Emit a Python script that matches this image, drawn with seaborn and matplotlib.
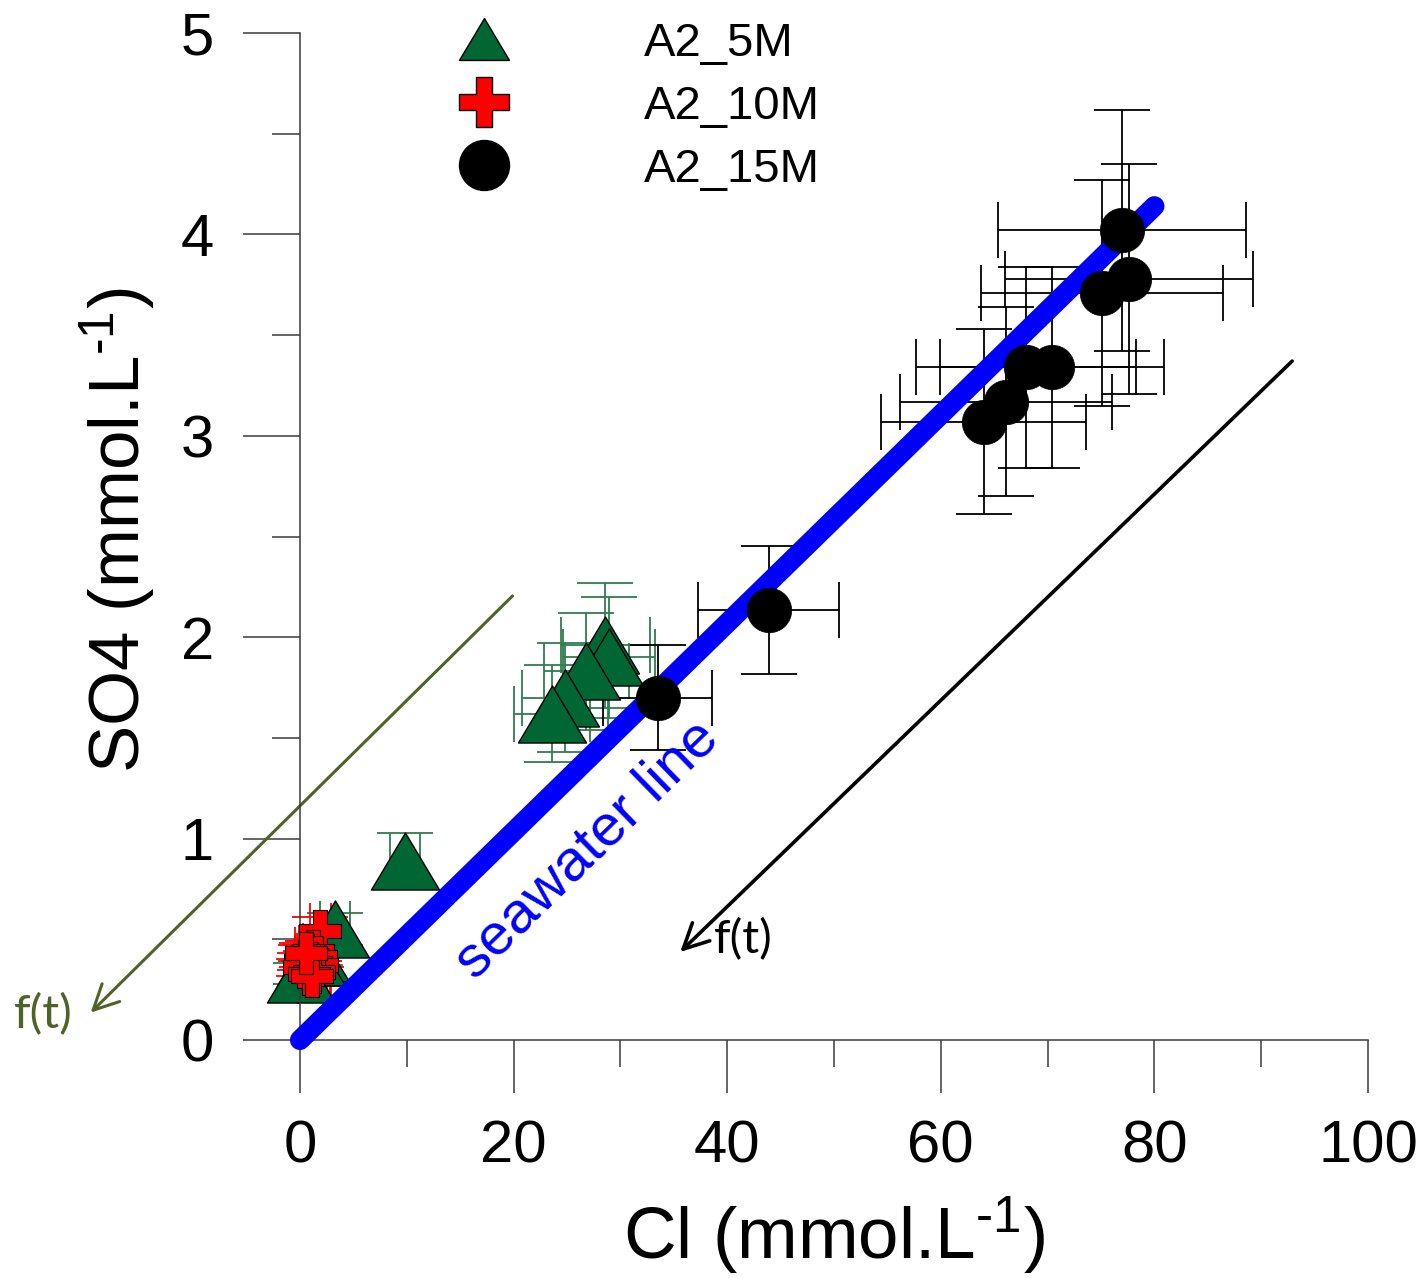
import matplotlib
matplotlib.use("Agg")
import matplotlib.pyplot as plt
from matplotlib.lines import Line2D
from matplotlib.path import Path
from matplotlib.ticker import MultipleLocator
import seaborn as sns

# ---------------- data ----------------
series_names = ["A2_5M", "A2_10M", "A2_15M"]

cl_5m = [28.6, 28.9, 26.8, 24.8, 23.6, 9.8, 3.3, 1.4, 1.0, 0.1]
so4_5m = [1.96, 1.90, 1.83, 1.70, 1.62, 0.89, 0.55, 0.43, 0.41, 0.33]
cl_err_5m = [4.2, 4.3, 4.0, 4.0, 3.6, 1.4, 1.4, 1.0, 1.0, 0.8]
so4_err_5m = [0.31, 0.30, 0.29, 0.27, 0.24, 0.14, 0.08, 0.06, 0.06, 0.05]

cl_10m = [1.9, 1.2, 0.7, 1.5, 0.5, 1.0, 1.6, 0.4, 1.3, 0.8, 1.1, 0.6]
so4_10m = [0.54, 0.44, 0.42, 0.41, 0.39, 0.38, 0.37, 0.36, 0.34, 0.33, 0.32, 0.43]
cl_err_10m = [1.0, 0.9, 1.2, 1.4, 0.8, 1.5, 1.2, 1.0, 1.6, 1.1, 1.3, 0.7]
so4_err_10m = [0.07, 0.05, 0.06, 0.05, 0.04, 0.06, 0.05, 0.04, 0.05, 0.06, 0.05, 0.04]

cl_15m = [33.5, 43.9, 77.0, 77.6, 75.1, 68.0, 70.4, 66.1, 64.0]
so4_15m = [1.70, 2.135, 4.02, 3.78, 3.71, 3.34, 3.34, 3.17, 3.07]
cl_err_15m = [5.1, 6.6, 11.6, 11.6, 11.3, 10.3, 10.5, 9.9, 9.6]
so4_err_15m = [0.26, 0.32, 0.60, 0.57, 0.56, 0.50, 0.50, 0.47, 0.46]

seawater_cl = [0, 80]
seawater_so4 = [0, 4.14]

x_ticks = [0, 20, 40, 60, 80, 100]
y_ticks = [0, 1, 2, 3, 4, 5]

arrow_olive = [(19.9, 2.205), (-19.6, 0.136)]
arrow_black = [(92.9, 3.371), (35.6, 0.437)]
label_olive = (-24.0, 0.124)
label_black = (41.5, 0.50)
seawater_label = (26.9, 0.943)

# ---------------- style ----------------
sns.set_theme(style="ticks")
plt.rcParams["font.family"] = ["Liberation Sans", "DejaVu Sans"]
plt.rcParams["mathtext.fontset"] = "custom"
plt.rcParams["mathtext.rm"] = "Liberation Sans"
plt.rcParams["mathtext.it"] = "Liberation Sans:italic"
plt.rcParams["mathtext.bf"] = "Liberation Sans:bold"
plt.rcParams["text.color"] = "black"
plt.rcParams["axes.labelcolor"] = "black"
plt.rcParams["xtick.labelcolor"] = "black"
plt.rcParams["ytick.labelcolor"] = "black"

GREEN = "#006633"
GREEN_ERR = "#2e7d4e"
RED = "#ff0000"
BLUE = "#0000ff"
OLIVE = "#4f6228"
AXC = "#3a3a3a"

tri = Path([(0, 28.5), (-34, -28.5), (34, -28.5), (0, 28.5)],
           [Path.MOVETO, Path.LINETO, Path.LINETO, Path.CLOSEPOLY])

fig = plt.figure(figsize=(14.28, 12.78), dpi=100)
ax = fig.add_axes([300 / 1428, 1 - 1040 / 1278, 1068 / 1428, 1007 / 1278])


def errbars(x, y, xe, ye, color, z):
    eb = ax.errorbar(x, y, xerr=xe, yerr=ye, fmt="none", ecolor=color,
                     elinewidth=1.3, capsize=20.5, capthick=1.3, zorder=z)
    for ch in eb.get_children():
        ch.set_clip_on(False)


errbars(cl_5m, so4_5m, cl_err_5m, so4_err_5m, GREEN_ERR, 2)
errbars(cl_10m, so4_10m, cl_err_10m, so4_err_10m, RED, 2.1)
errbars(cl_15m, so4_15m, cl_err_15m, so4_err_15m, "black", 2.2)

sns.scatterplot(x=cl_5m, y=so4_5m, marker=tri, s=49 ** 2, color=GREEN,
                edgecolor="black", linewidth=1.0, ax=ax, legend=False,
                zorder=3, clip_on=False)
sns.scatterplot(x=cl_10m, y=so4_10m, marker="P", s=30 ** 2, color=RED,
                edgecolor="black", linewidth=0.8, ax=ax, legend=False,
                zorder=3.5, clip_on=False)

ax.plot(seawater_cl, seawater_so4, color=BLUE, lw=14.5,
        solid_capstyle="round", zorder=4, clip_on=False)

sns.scatterplot(x=cl_15m, y=so4_15m, marker="o", s=32 ** 2, color="black",
                edgecolor="black", linewidth=0.5, ax=ax, legend=False,
                zorder=5, clip_on=False)

ax.text(seawater_label[0], seawater_label[1], "seawater line", color=BLUE,
        fontsize=42, rotation=44.3, rotation_mode="anchor",
        ha="center", va="center", zorder=6)

# arrows
ax.annotate("", xy=arrow_olive[1], xytext=arrow_olive[0], annotation_clip=False,
            arrowprops=dict(arrowstyle="->, head_length=0.6, head_width=0.3",
                            color=OLIVE, lw=2.2, mutation_scale=30,
                            shrinkA=0, shrinkB=0))
ax.annotate("", xy=arrow_black[1], xytext=arrow_black[0], annotation_clip=False,
            arrowprops=dict(arrowstyle="->, head_length=0.6, head_width=0.3",
                            color="black", lw=2.6, mutation_scale=30,
                            shrinkA=0, shrinkB=0))
ax.text(label_olive[0], label_olive[1], "f(t)", color=OLIVE, fontsize=34,
        family=["Lato", "DejaVu Sans"], ha="center", va="center", clip_on=False)
ax.text(label_black[0], label_black[1], "f(t)", color="black", fontsize=34,
        family=["Lato", "DejaVu Sans"], ha="center", va="center", clip_on=False)

# axes
ax.set_xlim(0, 100)
ax.set_ylim(0, 5)
ax.set_xticks(x_ticks)
ax.set_yticks(y_ticks)
ax.xaxis.set_minor_locator(MultipleLocator(10))
ax.yaxis.set_minor_locator(MultipleLocator(0.5))
ax.tick_params(axis="x", which="major", direction="out", length=38, width=1.1,
               color=AXC, labelsize=43, pad=19, labelcolor="black")
ax.tick_params(axis="x", which="minor", direction="out", length=19.5, width=1.1,
               color=AXC)
ax.tick_params(axis="y", which="major", direction="out", length=41, width=1.1,
               color=AXC, labelsize=43, pad=21, labelcolor="black")
ax.tick_params(axis="y", which="minor", direction="out", length=20, width=1.1,
               color=AXC)
for s in ["top", "right"]:
    ax.spines[s].set_visible(False)
for s in ["left", "bottom"]:
    ax.spines[s].set_color(AXC)
    ax.spines[s].set_linewidth(1.1)
    ax.spines[s].set_zorder(3.2)

ax.set_xlabel(r"Cl (mmol.L$^{\text{-1}}$)", fontsize=52.5, color="black")
ax.xaxis.set_label_coords(0.5, -0.153)
ax.set_ylabel(r"SO4 (mmol.L$^{\text{-1}}$)", fontsize=51, color="black")
ax.yaxis.set_label_coords(-0.133, 0.506)

handles = [
    Line2D([], [], linestyle="none", marker=tri, markersize=36,
           markerfacecolor=GREEN, markeredgecolor="black", markeredgewidth=1),
    Line2D([], [], linestyle="none", marker="P", markersize=36,
           markerfacecolor=RED, markeredgecolor="black", markeredgewidth=1),
    Line2D([], [], linestyle="none", marker="o", markersize=36,
           markerfacecolor="black", markeredgecolor="black"),
]
leg = ax.legend(handles, series_names, loc="upper left",
                bbox_to_anchor=(0.130, 1.011), frameon=False, fontsize=34,
                handlelength=1.9, handletextpad=2.45, labelspacing=0.40,
                borderpad=0, borderaxespad=0)
for t in leg.get_texts():
    t.set_color("black")

fig.savefig("out.png", dpi=100)
